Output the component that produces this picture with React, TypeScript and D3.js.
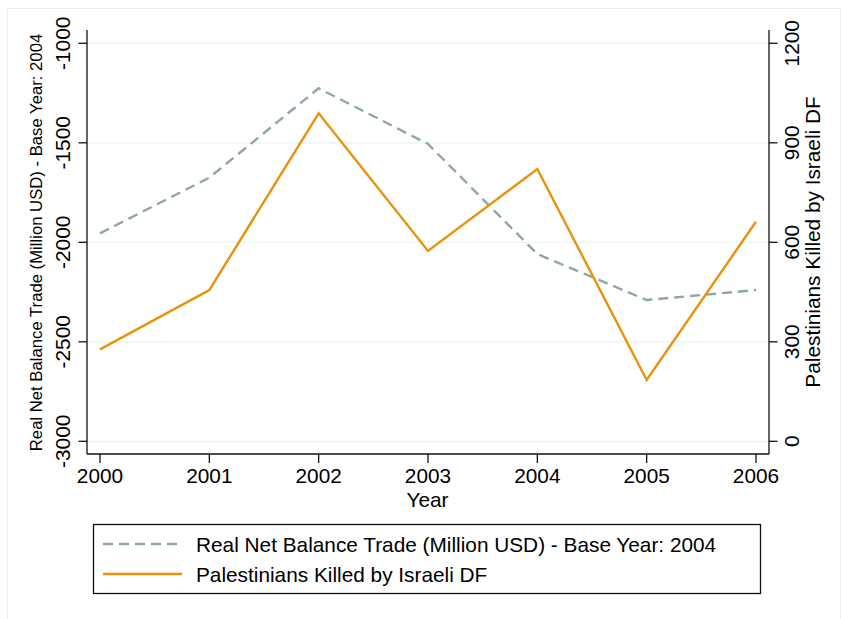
import * as d3 from "d3";
import { useEffect, useRef } from "react";

// Years on the x axis
const years = [2000, 2001, 2002, 2003, 2004, 2005, 2006];
// Real net balance trade (million USD, base year 2004) - left axis
const tradeValues = [-1955, -1675, -1226, -1506, -2059, -2290, -2240];
// Palestinians killed by Israeli DF - right axis
const killedValues = [277, 456, 989, 574, 821, 185, 662];

const leftTicks = [-1000, -1500, -2000, -2500, -3000];
const rightTicks = [1200, 900, 600, 300, 0];

const tradeLabel = "Real Net Balance Trade (Million USD) - Base Year: 2004";
const killedLabel = "Palestinians Killed by Israeli DF";

const W = 842;
const H = 619;
const FONT = "'Liberation Sans', Arial, Helvetica, sans-serif";
const FS = 20.8;
const TRADE_COLOR = "#8da89f";
const KILLED_COLOR = "#ea910c";

function App() {
    const ref = useRef<SVGSVGElement>(null);

    useEffect(() => {
        const plot = { left: 87, right: 769, top: 30, bottom: 454 };

        d3.select(ref.current).selectAll("*").remove();
        const svg = d3.select(ref.current);

        // outer panel
        svg.append("rect")
            .attr("x", 7.5).attr("y", 8.5)
            .attr("width", 833).attr("height", 630)
            .attr("fill", "#fff")
            .attr("stroke", "#e9eff0");

        const x = d3.scaleLinear().domain([2000, 2006]).range([100, 756]);
        const yLeft = d3.scaleLinear().domain([-3000, -1000]).range([441.3, 43.3]);
        const yRight = d3.scaleLinear().domain([0, 1200]).range([441.3, 43.3]);

        // gridlines
        svg.append("g")
            .selectAll("line")
            .data(leftTicks)
            .join("line")
            .attr("x1", plot.left).attr("x2", plot.right)
            .attr("y1", (d) => yLeft(d)).attr("y2", (d) => yLeft(d))
            .attr("stroke", "#eaf2f2")
            .attr("stroke-width", 1.2);

        // axis lines
        const axes = svg.append("g").attr("stroke", "#111").attr("stroke-width", 1.3);
        axes.append("line").attr("x1", plot.left).attr("x2", plot.left).attr("y1", plot.top).attr("y2", plot.bottom);
        axes.append("line").attr("x1", plot.right).attr("x2", plot.right).attr("y1", plot.top).attr("y2", plot.bottom);
        axes.append("line").attr("x1", plot.left).attr("x2", plot.right).attr("y1", plot.bottom).attr("y2", plot.bottom);

        // left ticks + labels
        const lt = svg.append("g").selectAll("g").data(leftTicks).join("g");
        lt.append("line")
            .attr("x1", plot.left - 8.5).attr("x2", plot.left)
            .attr("y1", (d) => yLeft(d)).attr("y2", (d) => yLeft(d))
            .attr("stroke", "#111").attr("stroke-width", 1.3);
        lt.append("text")
            .attr("transform", (d) => `translate(69.5,${yLeft(d)}) rotate(-90)`)
            .attr("text-anchor", "middle")
            .attr("font-family", FONT)
            .attr("font-size", FS)
            .text((d) => String(d));

        // right ticks + labels
        const rt = svg.append("g").selectAll("g").data(rightTicks).join("g");
        rt.append("line")
            .attr("x1", plot.right).attr("x2", plot.right + 8.5)
            .attr("y1", (d) => yRight(d)).attr("y2", (d) => yRight(d))
            .attr("stroke", "#111").attr("stroke-width", 1.3);
        rt.append("text")
            .attr("transform", (d) => `translate(799,${yRight(d)}) rotate(-90)`)
            .attr("text-anchor", "middle")
            .attr("font-family", FONT)
            .attr("font-size", FS)
            .text((d) => String(d));

        // bottom ticks + labels
        const bt = svg.append("g").selectAll("g").data(years).join("g");
        bt.append("line")
            .attr("x1", (d) => x(d)).attr("x2", (d) => x(d))
            .attr("y1", plot.bottom).attr("y2", plot.bottom + 9)
            .attr("stroke", "#111").attr("stroke-width", 1.3);
        bt.append("text")
            .attr("x", (d) => x(d)).attr("y", 483)
            .attr("text-anchor", "middle")
            .attr("font-family", FONT)
            .attr("font-size", FS)
            .text((d) => String(d));

        // axis titles
        svg.append("text")
            .attr("x", (plot.left + plot.right) / 2 - 0.5).attr("y", 507)
            .attr("text-anchor", "middle")
            .attr("font-family", FONT).attr("font-size", FS)
            .text("Year");
        svg.append("text")
            .attr("transform", `translate(41.5,${(plot.top + plot.bottom) / 2 + 0.5}) rotate(-90)`)
            .attr("text-anchor", "middle")
            .attr("font-family", FONT).attr("font-size", 16.7)
            .text(tradeLabel);
        svg.append("text")
            .attr("transform", `translate(820,${(plot.top + plot.bottom) / 2}) rotate(-90)`)
            .attr("text-anchor", "middle")
            .attr("font-family", FONT).attr("font-size", FS)
            .text(killedLabel);

        // series lines
        const tradeLine = d3.line<number>()
            .x((_, i) => x(years[i]))
            .y((d) => yLeft(d));
        const killedLine = d3.line<number>()
            .x((_, i) => x(years[i]))
            .y((d) => yRight(d));

        svg.append("path")
            .attr("d", tradeLine(tradeValues)!)
            .attr("fill", "none")
            .attr("stroke", TRADE_COLOR)
            .attr("stroke-width", 2.4)
            .attr("stroke-dasharray", "10,6");
        svg.append("path")
            .attr("d", killedLine(killedValues)!)
            .attr("fill", "none")
            .attr("stroke", KILLED_COLOR)
            .attr("stroke-width", 2.4)
            .attr("stroke-linejoin", "miter");

        // legend
        const legend = svg.append("g");
        legend.append("rect")
            .attr("x", 93.5).attr("y", 524.5)
            .attr("width", 667).attr("height", 69)
            .attr("fill", "#fff")
            .attr("stroke", "#111").attr("stroke-width", 1.3);
        const items = [
            { label: tradeLabel, color: TRADE_COLOR, dash: "10,6", y: 544 },
            { label: killedLabel, color: KILLED_COLOR, dash: null, y: 574 },
        ];
        const li = legend.selectAll("g").data(items).join("g");
        li.append("line")
            .attr("x1", 103).attr("x2", 182)
            .attr("y1", (d) => d.y).attr("y2", (d) => d.y)
            .attr("stroke", (d) => d.color)
            .attr("stroke-width", 2.4)
            .attr("stroke-dasharray", (d) => d.dash);
        li.append("text")
            .attr("x", 196).attr("y", (d) => d.y + 7.5)
            .attr("font-family", FONT).attr("font-size", FS)
            .text((d) => d.label);
    }, []);

    return (
        <svg
            ref={ref}
            width={W}
            height={H}
            style={{ position: "absolute", left: 0, top: 0, background: "#fff" }}
        />
    );
}

export default App;
